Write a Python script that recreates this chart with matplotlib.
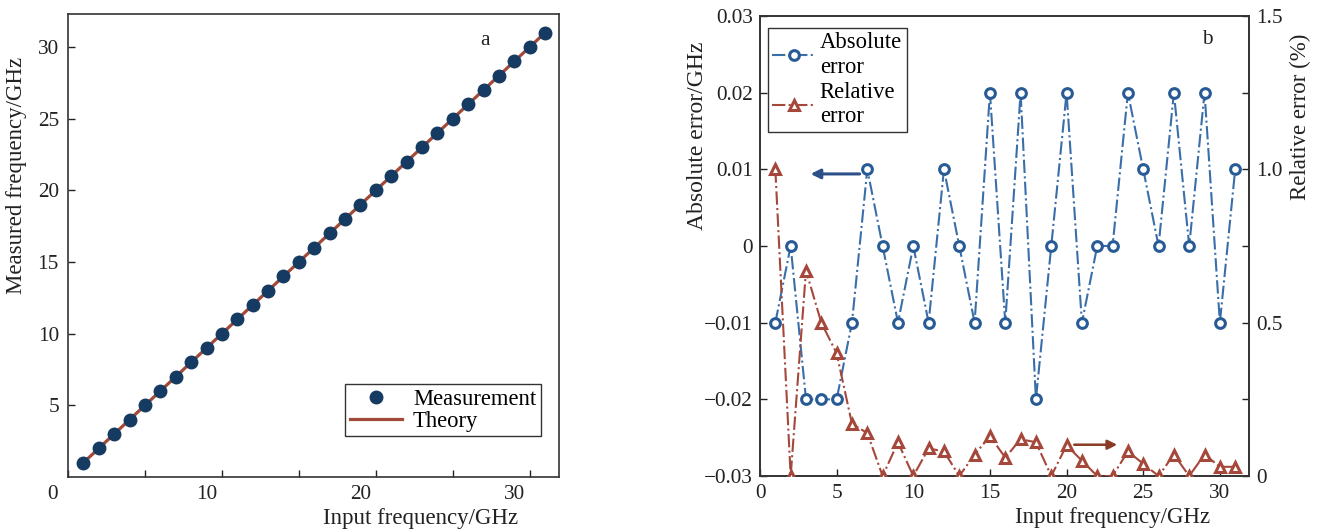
import matplotlib
matplotlib.use("Agg")
import matplotlib.pyplot as plt
from matplotlib.ticker import FixedLocator
from matplotlib.transforms import ScaledTranslation

plt.rcParams['font.family'] = ['Liberation Serif', 'DejaVu Serif']
plt.rcParams['axes.unicode_minus'] = True

# ---- data ----
input_freq = list(range(1, 32))
measured_freq = [1, 2, 3, 4, 5, 6, 7, 8, 9, 10, 11, 12, 13, 14, 15, 16,
                 17, 18, 19, 20, 21, 22, 23, 24, 25, 26, 27, 28, 29, 30, 31]
theory_freq = list(range(1, 32))

abs_error = [-0.01, 0.0, -0.02, -0.02, -0.02, -0.01, 0.01, 0.0, -0.01, 0.0,
             -0.01, 0.01, 0.0, -0.01, 0.02, -0.01, 0.02, -0.02, 0.0, 0.02,
             -0.01, 0.0, 0.0, 0.02, 0.01, 0.0, 0.02, 0.0, 0.02, -0.01, 0.01]
rel_error = [1.0, 0.0, 0.67, 0.50, 0.40, 0.17, 0.14, 0.0, 0.11, 0.0,
             0.09, 0.08, 0.0, 0.07, 0.13, 0.06, 0.12, 0.11, 0.0, 0.10,
             0.05, 0.0, 0.0, 0.08, 0.04, 0.0, 0.07, 0.0, 0.07, 0.03, 0.03]

text_color = '#222222'
navy = '#163b62'
brown = '#a24a3a'
blue = '#3a6ea8'
blue_edge = '#285b95'
rbrown = '#a5473a'

fs_tick = 15.3
fs_lab = 16.5
fs_leg = 16.3
fig = plt.figure(figsize=(13.2, 5.32), dpi=100)

# ---------------- panel a ----------------
ax1 = fig.add_axes([68 / 1320, 55 / 532, 491 / 1320, 463 / 532])
ax1.plot(theory_freq, theory_freq, color=brown, lw=2.3, label='Theory', zorder=2)
ax1.plot(input_freq, measured_freq, 'o', color=navy, ms=9, label='Measurement', zorder=3)
ax1.set_xlim(0, 31.9)
ax1.set_ylim(0, 32.3)
ax1.xaxis.set_major_locator(FixedLocator([0, 10, 20, 30]))
ax1.xaxis.set_minor_locator(FixedLocator([5, 15, 25]))
ax1.yaxis.set_major_locator(FixedLocator([5, 10, 15, 20, 25, 30]))
ax1.tick_params(which='both', direction='in', labelsize=fs_tick, colors=text_color,
                length=5, width=1)
ax1.tick_params(axis='x', pad=6)
ax1.tick_params(axis='y', pad=6.5)
ax1.set_xlabel('Input frequency/GHz', fontsize=fs_lab, color=text_color)
ax1.xaxis.label.set_ha('right')
ax1.xaxis.set_label_coords(0.916, -0.066)
ax1.set_ylabel('Measured frequency/GHz', fontsize=fs_lab, color=text_color)
ax1.yaxis.set_label_coords(-0.083, 0.652)
for s in ax1.spines.values():
    s.set_linewidth(1.2)
    s.set_color('#333333')
# the "0" sits slightly left of the corner in the original
for t in ax1.xaxis.get_major_ticks():
    if t.get_loc() == 0:
        t.label1.set_transform(t.label1.get_transform() +
                               ScaledTranslation(-0.15, 0, fig.dpi_scale_trans))
ax1.text(0.849, 0.942, 'a', transform=ax1.transAxes, fontsize=fs_tick, color=text_color,
         ha='center', va='center')
h, l = ax1.get_legend_handles_labels()
leg1 = ax1.legend(h[::-1], l[::-1], loc='lower right', bbox_to_anchor=(0.963, 0.088),
                  fontsize=fs_leg, frameon=True, fancybox=False, edgecolor='#333333',
                  borderpad=0.2, handlelength=2.3, labelspacing=0.05, handletextpad=0.5,
                  borderaxespad=0, framealpha=1)
leg1.get_frame().set_linewidth(1.0)

# ---------------- panel b ----------------
ax2 = fig.add_axes([760 / 1320, 56 / 532, 489 / 1320, 460 / 532])
ax3 = ax2.twinx()
l1, = ax2.plot(input_freq, abs_error, linestyle='-.', color=blue, lw=1.5,
               marker='o', ms=7, mfc='white', mec=blue_edge, mew=2.2,
               label='Absolute\nerror', zorder=3)
l2, = ax3.plot(input_freq, rel_error, linestyle='-.', color=rbrown, lw=1.5,
               marker='^', ms=7.5, mfc='white', mec=rbrown, mew=2.2,
               label='Relative\nerror', zorder=3)
ax2.set_xlim(0, 31.9)
ax2.set_ylim(-0.03, 0.03)
ax3.set_ylim(0, 1.5)
ax2.set_yticks([-0.03, -0.02, -0.01, 0, 0.01, 0.02, 0.03])
ax2.set_yticklabels(['\u22120.03', '\u22120.02', '\u22120.01', '0', '0.01', '0.02', '0.03'])
ax2.set_xticks([0, 5, 10, 15, 20, 25, 30])
ax2.set_xticklabels(['0', '5', '10', '15', '20', '25', '30'])
ax3.set_yticks([0, 0.5, 1.0, 1.5])
ax3.set_yticklabels(['0', '0.5', '1.0', '1.5'])
ax3.yaxis.set_minor_locator(FixedLocator([0.25, 0.75, 1.25]))
for a in (ax2, ax3):
    a.tick_params(which='both', direction='in', labelsize=fs_tick, colors=text_color,
                  length=5, width=1, pad=5)
ax2.tick_params(axis='x', pad=6)
ax2.set_xlabel('Input frequency/GHz', fontsize=fs_lab, color=text_color)
ax2.xaxis.label.set_ha('right')
ax2.xaxis.set_label_coords(0.92, -0.068)
ax2.set_ylabel('Absolute error/GHz', fontsize=fs_lab + 0.5, color=text_color)
ax2.yaxis.set_label_coords(-0.106, 0.74)
ax3.set_ylabel('Relative error (%)', fontsize=fs_lab, color=text_color)
ax3.yaxis.set_label_coords(1.084, 0.78)
for a in (ax2, ax3):
    for s in a.spines.values():
        s.set_linewidth(1.2)
        s.set_color('#333333')
ax2.text(0.914, 0.948, 'b', transform=ax2.transAxes, fontsize=fs_tick, color=text_color,
         ha='center', va='center')

ax2.annotate('', xy=(3.3, 0.0094), xytext=(6.5, 0.0094),
             arrowprops=dict(arrowstyle='-|>', color='#2d4f8a', lw=2.2,
                             mutation_scale=14, shrinkA=0, shrinkB=0))
ax3.annotate('', xy=(23.3, 0.102), xytext=(20.5, 0.102),
             arrowprops=dict(arrowstyle='-|>', color='#8a3a25', lw=1.8,
                             mutation_scale=14, shrinkA=0, shrinkB=0))

leg2 = ax2.legend([l1, l2], ['Absolute\nerror', 'Relative\nerror'], loc='upper left',
                  bbox_to_anchor=(0.016, 0.974), fontsize=fs_leg, frameon=True,
                  fancybox=False, edgecolor='#333333', borderpad=0.2, handlelength=1.9,
                  labelspacing=0.2, handletextpad=0.2, borderaxespad=0, framealpha=1)
leg2.get_frame().set_linewidth(1.0)
leg2.set_zorder(10)

fig.savefig('out.png', dpi=100)
